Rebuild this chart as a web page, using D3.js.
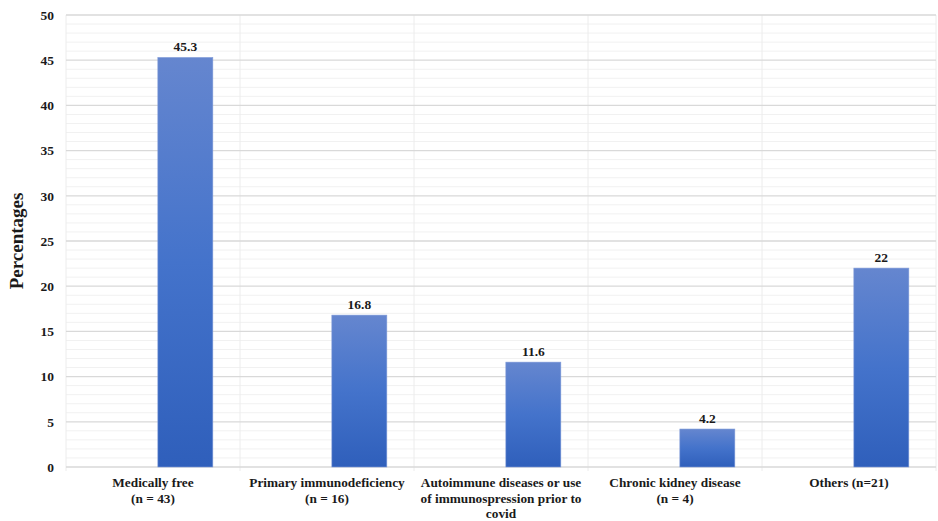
<!DOCTYPE html>
<html>
<head>
<meta charset="utf-8">
<script src="https://cdn.jsdelivr.net/npm/d3@7"></script>
<style>
  html, body { margin: 0; padding: 0; background: #fff; }
  svg { display: block; }
  text { font-family: "Liberation Serif", "Times New Roman", serif; font-weight: bold; fill: #1a1a1a; }
</style>
</head>
<body>
<svg id="chart" width="938" height="521"></svg>
<script>
// Category labels (split into lines) and percentages
const categories = [
  ["Medically free", "(n = 43)"],
  ["Primary immunodeficiency", "(n = 16)"],
  ["Autoimmune diseases or use", "of immunospression prior to", "covid"],
  ["Chronic kidney disease", "(n = 4)"],
  ["Others (n=21)"]
];
const percentages = [45.3, 16.8, 11.6, 4.2, 22];
const yTicks = [0, 5, 10, 15, 20, 25, 30, 35, 40, 45, 50];
const seriesSlots = ["blank", "pct"];

const svg = d3.select("#chart");
const margin = { left: 66, right: 2, top: 15, bottom: 54 };
const W = 938, H = 521;
const plotW = W - margin.left - margin.right;
const plotH = H - margin.top - margin.bottom;
const FONT = "'Liberation Serif', 'Times New Roman', serif";

const g = svg.append("g").attr("transform", `translate(${margin.left},${margin.top})`);

const x = d3.scaleBand().domain(d3.range(categories.length)).range([0, plotW]).padding(0);
const slot = d3.scaleBand().domain(seriesSlots).range([0, x.bandwidth()])
  .paddingInner(0.15).paddingOuter(0.42);
const y = d3.scaleLinear().domain([0, 50]).range([plotH, 0]);

// minor gridlines
g.append("g").selectAll("line")
  .data(d3.range(0, 51, 1).filter(v => v % 5 !== 0))
  .join("line")
  .attr("x1", 0).attr("x2", plotW)
  .attr("y1", d => y(d)).attr("y2", d => y(d))
  .attr("stroke", "#f1f1f1").attr("stroke-width", 1);

// vertical category separators
g.append("g").selectAll("line")
  .data(d3.range(categories.length + 1))
  .join("line")
  .attr("x1", d => d * x.step()).attr("x2", d => d * x.step())
  .attr("y1", 0).attr("y2", plotH + 4)
  .attr("stroke", "#ececec").attr("stroke-width", 1);

// major gridlines
g.append("g").selectAll("line")
  .data(yTicks)
  .join("line")
  .attr("x1", 0).attr("x2", plotW)
  .attr("y1", d => y(d)).attr("y2", d => y(d))
  .attr("stroke", "#d9d9d9").attr("stroke-width", 1.3);

// y axis labels
const yAxis = d3.axisLeft(y).tickValues(yTicks).tickSize(0).tickPadding(12);
g.append("g").call(yAxis)
  .attr("font-family", FONT).attr("font-size", 13.5)
  .call(a => a.select(".domain").remove())
  .selectAll("text").style("font-family", FONT)
  .style("font-weight", "bold").attr("fill", "#1a1a1a");

// gradient fill for bars
const defs = svg.append("defs");
const grad = defs.append("linearGradient").attr("id", "barGrad")
  .attr("x1", 0).attr("y1", 0).attr("x2", 0).attr("y2", 1);
grad.append("stop").attr("offset", "0%").attr("stop-color", "#6586cf");
grad.append("stop").attr("offset", "50%").attr("stop-color", "#4473cb");
grad.append("stop").attr("offset", "100%").attr("stop-color", "#2f5fbb");

// bars
g.append("g").selectAll("rect")
  .data(percentages)
  .join("rect")
  .attr("x", (d, i) => x(i) + slot("pct"))
  .attr("y", d => y(d))
  .attr("width", slot.bandwidth())
  .attr("height", d => plotH - y(d))
  .attr("fill", "url(#barGrad)")
  .attr("stroke", "#7f9ad8").attr("stroke-width", 0.6);

// value labels
g.append("g").selectAll("text")
  .data(percentages)
  .join("text")
  .attr("x", (d, i) => x(i) + slot("pct") + slot.bandwidth() / 2)
  .attr("y", d => y(d) - 6)
  .attr("text-anchor", "middle")
  .attr("font-size", 13.5)
  .text(d => d);

// category labels
const xl = g.append("g").selectAll("text")
  .data(categories)
  .join("text")
  .attr("x", (d, i) => x(i) + x.bandwidth() / 2)
  .attr("y", plotH + 20)
  .attr("text-anchor", "middle")
  .attr("font-size", 13.3);
xl.selectAll("tspan")
  .data(d => d)
  .join("tspan")
  .attr("x", function() { return this.parentNode.getAttribute("x"); })
  .attr("dy", (d, i) => i === 0 ? 0 : 15.5)
  .text(d => d);

// y title
svg.append("text")
  .attr("transform", `translate(23,${margin.top + plotH / 2}) rotate(-90)`)
  .attr("text-anchor", "middle")
  .attr("font-size", 19)
  .text("Percentages");
</script>
</body>
</html>
